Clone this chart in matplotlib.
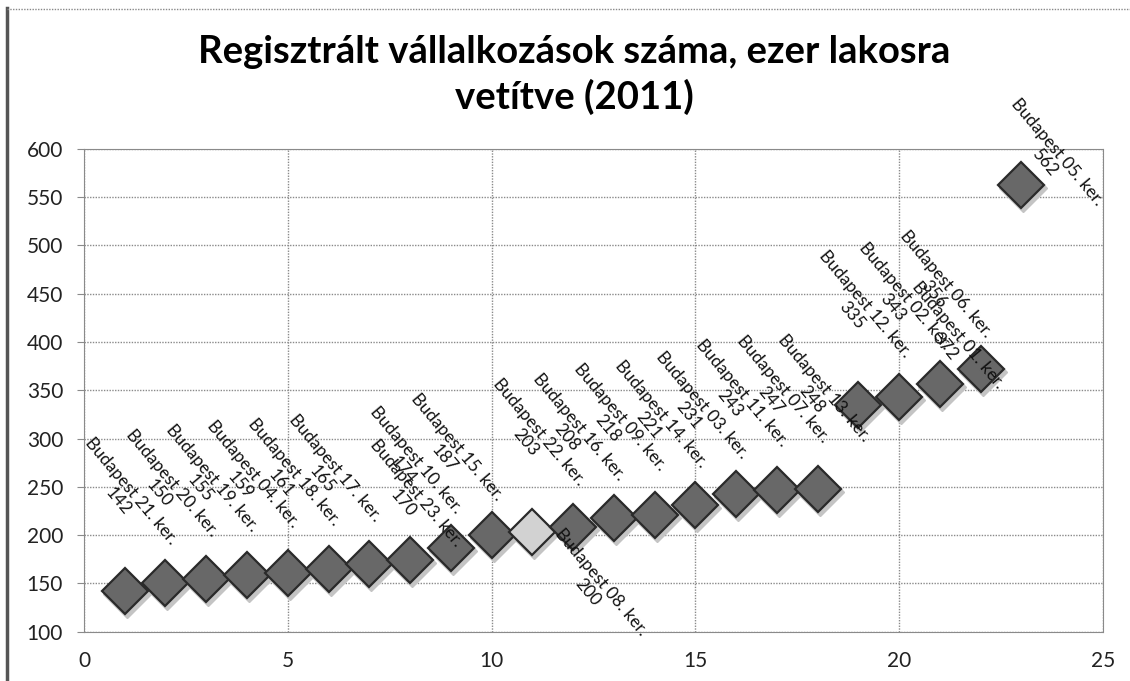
import matplotlib.pyplot as plt
import matplotlib.transforms as mtransforms
from matplotlib.lines import Line2D

plt.rcParams['font.family'] = ['Lato', 'DejaVu Sans']

# kerületek növekvő sorrendben
kerulet = ["21", "20", "19", "04", "18", "17", "23", "10", "15", "08", "22", "16",
           "09", "14", "03", "11", "07", "13", "12", "02", "06", "01", "05"]
ertek = [142, 150, 155, 159, 161, 165, 170, 174, 187, 200, 203, 208,
         218, 221, 231, 243, 247, 248, 335, 343, 356, 372, 562]
sorszam = list(range(1, len(kerulet) + 1))

x_ticks = [0, 5, 10, 15, 20, 25]
y_ticks = [100, 150, 200, 250, 300, 350, 400, 450, 500, 550, 600]

cim1 = "Regisztrált vállalkozások száma, ezer lakosra"
cim2 = "vetítve (2011)"

# kézzel elmozgatott címkék (pont)
eltolas = {7: (29, -21), 10: (74, -106), 22: (-21, -48), 23: (21, -48)}
vilagos = 11

fig = plt.figure(figsize=(11.3, 6.81), dpi=100)
ax = fig.add_axes([0.0743, 0.0724, 0.9018, 0.7092])

# árnyék
shadow = mtransforms.offset_copy(ax.transData, fig=fig, x=2, y=-3, units='dots')
ax.plot(sorszam, ertek, ls='none', marker='D', ms=24, color='#c4c4c4',
        mec='#c4c4c4', transform=shadow, zorder=2)

colors = ['#d2d2d2' if s == vilagos else '#686868' for s in sorszam]
for s, v, c in zip(sorszam, ertek, colors):
    ax.plot(s, v, ls='none', marker='D', ms=23, mfc=c, mec='#2a2a2a', mew=1.6, zorder=3)

for s, v, k in zip(sorszam, ertek, kerulet):
    dx, dy = eltolas.get(s, (0, 0))
    ax.annotate(f"Budapest {k}. ker.\n{v}", xy=(s, v), xytext=(dx, 24 + dy),
                textcoords='offset points', ha='center', va='bottom', rotation=-50,
                fontsize=12.5, multialignment='center', linespacing=1.05,
                annotation_clip=False, zorder=5, color='#111111')

ax.set_xlim(0, 25)
ax.set_ylim(100, 600)
ax.set_xticks(x_ticks)
ax.set_yticks(y_ticks)
ax.grid(True, ls=(0, (1, 1)), color='#8a8a8a', lw=1)
for sp in ax.spines.values():
    sp.set_linestyle((0, (1, 1)))
    sp.set_color('#8a8a8a')
ax.tick_params(axis='y', length=5, color='#8a8a8a', pad=10, labelsize=15, labelcolor='#222222')
ax.tick_params(axis='x', length=0, pad=14, labelsize=15, labelcolor='#222222')

fig.text(0.508, 1 - 63 / 681, cim1, ha='center', va='baseline', fontsize=27.5, fontweight='bold')
fig.text(0.508, 1 - 109 / 681, cim2, ha='center', va='baseline', fontsize=27.5, fontweight='bold')

# diagram kerete
fig.add_artist(Line2D([7 / 1130, 7 / 1130], [0, 1 - 8 / 681], color='#555555', lw=2.5))
fig.add_artist(Line2D([7 / 1130, 1], [1 - 9 / 681, 1 - 9 / 681], color='#888888', lw=1,
                      ls=(0, (1, 1))))

fig.savefig("out.png", dpi=100)
